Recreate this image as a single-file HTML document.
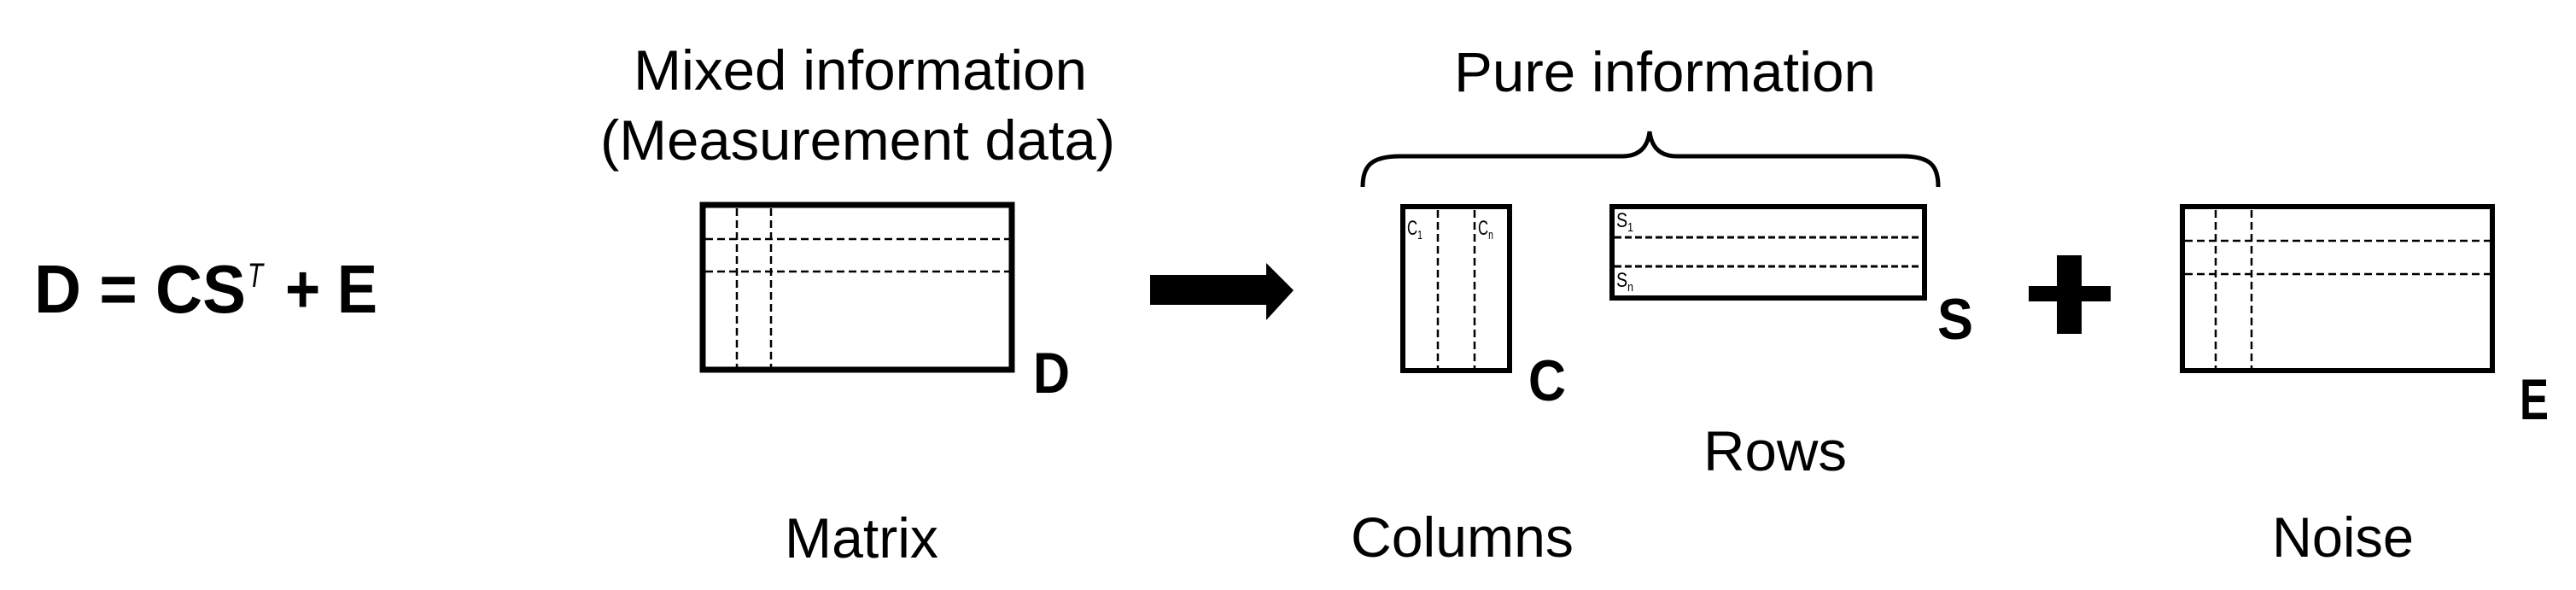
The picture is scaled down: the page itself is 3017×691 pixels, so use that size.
<!DOCTYPE html>
<html><head><meta charset="utf-8"><style>
html,body{margin:0;padding:0;background:#fff;}
svg{display:block;}
text{font-family:"Liberation Sans",Arial,sans-serif;fill:#000;}
</style></head><body>
<svg width="3017" height="691" viewBox="0 0 3017 691" xmlns="http://www.w3.org/2000/svg">
<!-- Equation -->
<text x="40" y="366" font-size="80" font-weight="bold" textLength="248" lengthAdjust="spacingAndGlyphs">D = CS</text>
<text x="290" y="336" font-size="40" font-style="italic" textLength="18" lengthAdjust="spacingAndGlyphs">T</text>
<text x="334" y="366" font-size="80" font-weight="bold" textLength="108" lengthAdjust="spacingAndGlyphs">+ E</text>

<!-- Mixed information -->
<text x="742" y="105" font-size="66" textLength="531" lengthAdjust="spacingAndGlyphs">Mixed information</text>
<text x="703" y="187" font-size="66" textLength="603" lengthAdjust="spacingAndGlyphs">(Measurement data)</text>

<g fill="none" stroke="#000">
<!-- D matrix -->
<rect x="823" y="240" width="362" height="193" stroke-width="7"/>
<g stroke-width="2.5" stroke-dasharray="9,5">
<line x1="863" y1="244" x2="863" y2="430"/>
<line x1="903" y1="244" x2="903" y2="430"/>
<line x1="826" y1="280" x2="1190" y2="280"/>
<line x1="826" y1="318" x2="1182" y2="318"/>
</g>
<!-- C matrix -->
<rect x="1643" y="242" width="125" height="192" stroke-width="6"/>
<g stroke-width="2.5" stroke-dasharray="9,5">
<line x1="1684" y1="246" x2="1684" y2="431"/>
<line x1="1727" y1="246" x2="1727" y2="431"/>
</g>
<!-- S matrix -->
<rect x="1888" y="242" width="366" height="107" stroke-width="6"/>
<g stroke-width="3" stroke-dasharray="8,4">
<line x1="1891" y1="278" x2="2251" y2="278"/>
<line x1="1891" y1="312" x2="2251" y2="312"/>
</g>
<!-- E matrix -->
<rect x="2556" y="242" width="363" height="192" stroke-width="6"/>
<g stroke-width="2.5" stroke-dasharray="9,5">
<line x1="2595" y1="246" x2="2595" y2="431"/>
<line x1="2637" y1="246" x2="2637" y2="431"/>
<line x1="2559" y1="282" x2="2916" y2="282"/>
<line x1="2559" y1="321" x2="2916" y2="321"/>
</g>
<!-- Brace -->
<path d="M1596,219 C1596,195 1605,183 1640,183 L1900,183 C1922,183 1930,170 1932,154 C1934,170 1942,183 1964,183 L2228,183 C2262,183 2270,195 2270,219" stroke-width="5"/>
</g>

<!-- Arrow -->
<polygon points="1347,322 1483,322 1483,308 1515,340 1483,375 1483,357 1347,357" fill="#000"/>
<!-- Plus -->
<rect x="2409" y="299" width="29" height="92" fill="#000"/>
<rect x="2376" y="335" width="96" height="18" fill="#000"/>

<!-- small labels -->
<text x="1648" y="275" font-size="24" textLength="18" lengthAdjust="spacingAndGlyphs">C<tspan font-size="15" dy="5">1</tspan></text>
<text x="1731" y="275" font-size="24" textLength="18" lengthAdjust="spacingAndGlyphs">C<tspan font-size="15" dy="5">n</tspan></text>
<text x="1893" y="266" font-size="24" textLength="20" lengthAdjust="spacingAndGlyphs">S<tspan font-size="15" dy="5">1</tspan></text>
<text x="1893" y="336" font-size="24" textLength="20" lengthAdjust="spacingAndGlyphs">S<tspan font-size="15" dy="5">n</tspan></text>

<!-- Bold matrix letters -->
<text x="1210" y="460" font-size="68" font-weight="bold" textLength="43" lengthAdjust="spacingAndGlyphs">D</text>
<text x="1790" y="469" font-size="68" font-weight="bold" textLength="44" lengthAdjust="spacingAndGlyphs">C</text>
<text x="2269" y="397" font-size="68" font-weight="bold" textLength="42" lengthAdjust="spacingAndGlyphs">S</text>
<text x="2951" y="491" font-size="68" font-weight="bold" textLength="34" lengthAdjust="spacingAndGlyphs">E</text>

<!-- Captions -->
<text x="1703" y="107" font-size="66" textLength="494" lengthAdjust="spacingAndGlyphs">Pure information</text>
<text x="919" y="653" font-size="66" textLength="180" lengthAdjust="spacingAndGlyphs">Matrix</text>
<text x="1995" y="551" font-size="66" textLength="168" lengthAdjust="spacingAndGlyphs">Rows</text>
<text x="1582" y="652" font-size="66" textLength="261" lengthAdjust="spacingAndGlyphs">Columns</text>
<text x="2661" y="652" font-size="66" textLength="166" lengthAdjust="spacingAndGlyphs">Noise</text>
</svg>
</body></html>
